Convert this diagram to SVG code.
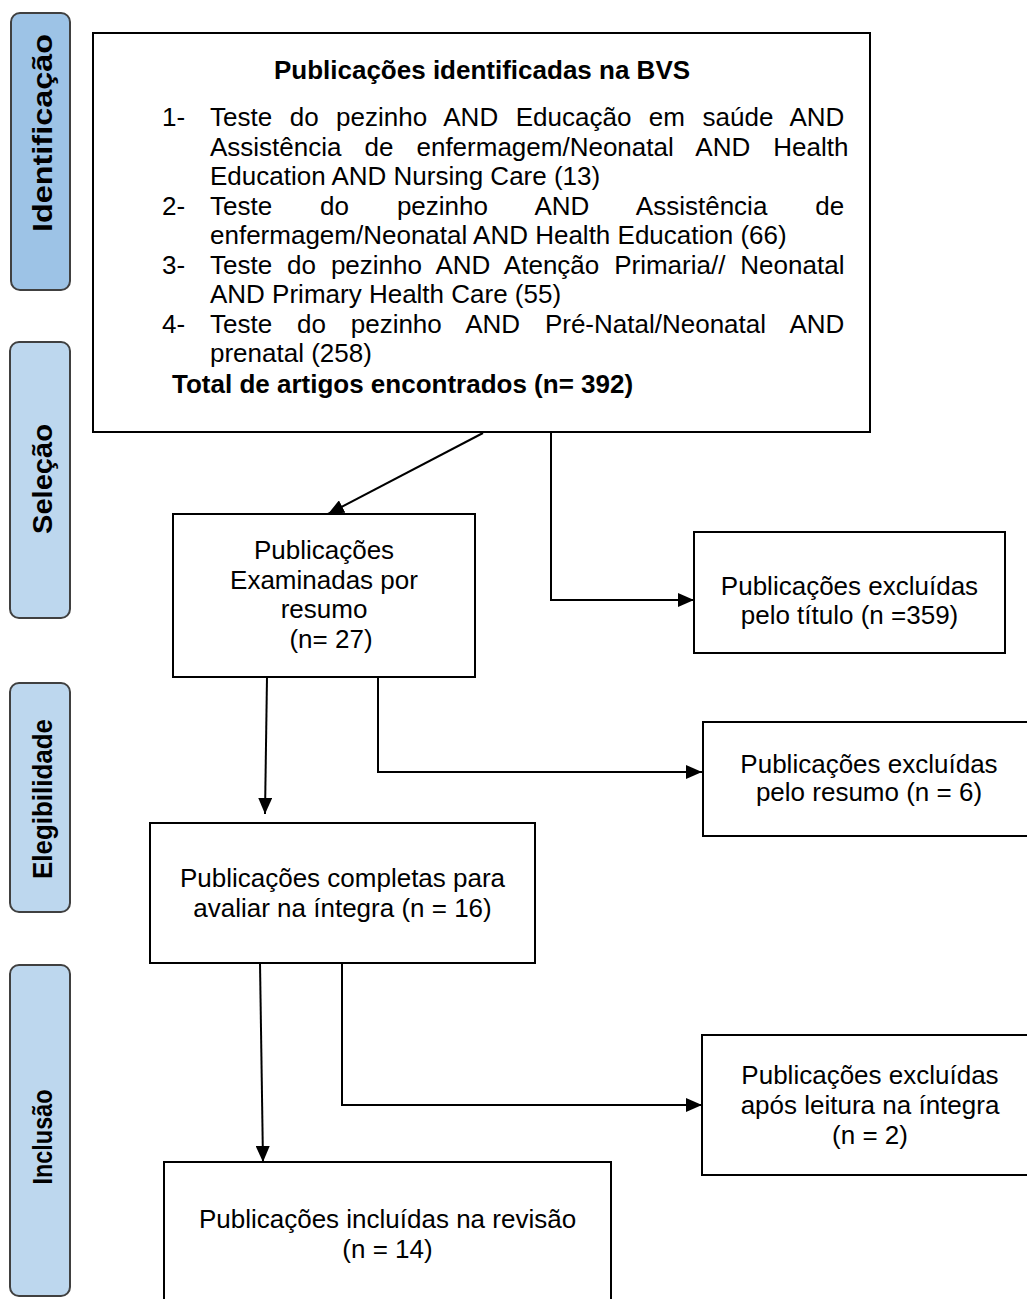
<svg xmlns="http://www.w3.org/2000/svg" width="1027" height="1299" viewBox="0 0 1027 1299">
<defs>
<marker id="ah" markerUnits="userSpaceOnUse" markerWidth="16" markerHeight="14" refX="16" refY="7" orient="auto">
<path d="M0,0 L16,7 L0,14 Z" fill="#000"/>
</marker>
</defs>
<style>
.stage{fill:#bdd7ee;stroke:#404040;stroke-width:2}
.stage1{fill:#9dc3e6;stroke:#404040;stroke-width:2}
.st{font-family:"Liberation Sans",Arial,sans-serif;font-size:27px;font-weight:bold;fill:#000}
.box{fill:#fff;stroke:#000;stroke-width:2}
.t{font-family:"Liberation Sans",Arial,sans-serif;font-size:26px;fill:#000}
.tb{font-family:"Liberation Sans",Arial,sans-serif;font-size:26px;font-weight:bold;fill:#000}
.c{text-anchor:middle}
.con{fill:none;stroke:#000;stroke-width:2}
</style>
<rect width="1027" height="1299" fill="#fff"/>

<g id="stage-identificacao">
<rect class="stage1" x="11" y="13" width="59" height="277" rx="9"/>
<text class="st c" transform="translate(52,133) rotate(-90)" textLength="198" lengthAdjust="spacingAndGlyphs">Identificação</text>
</g>
<g id="stage-selecao">
<rect class="stage" x="10" y="342" width="60" height="276" rx="9"/>
<text class="st c" transform="translate(52,479) rotate(-90)" textLength="110" lengthAdjust="spacingAndGlyphs">Seleção</text>
</g>
<g id="stage-elegibilidade">
<rect class="stage" x="10" y="683" width="60" height="229" rx="9"/>
<text class="st c" transform="translate(52,799) rotate(-90)" textLength="160" lengthAdjust="spacingAndGlyphs">Elegibilidade</text>
</g>
<g id="stage-inclusao">
<rect class="stage" x="10" y="965" width="60" height="331" rx="9"/>
<text class="st c" transform="translate(52,1137) rotate(-90)" textLength="95" lengthAdjust="spacingAndGlyphs">Inclusão</text>
</g>

<g id="node-identificadas">
<rect class="box" x="93" y="33" width="777" height="399"/>
<text class="tb c" x="482" y="79">Publicações identificadas na BVS</text>
<text class="t" x="162" y="126">1-</text>
<text class="t" x="210" y="126" style="word-spacing:10.3px">Teste do pezinho AND Educação em saúde AND</text>
<text class="t" x="210" y="155.5" style="word-spacing:15.8px">Assistência de enfermagem/Neonatal AND Health</text>
<text class="t" x="210" y="185">Education AND Nursing Care (13)</text>
<text class="t" x="162" y="214.5">2-</text>
<text class="t" x="210" y="214.5" style="word-spacing:40.7px">Teste do pezinho AND Assistência de</text>
<text class="t" x="210" y="244">enfermagem/Neonatal AND Health Education (66)</text>
<text class="t" x="162" y="273.5">3-</text>
<text class="t" x="210" y="273.5" style="word-spacing:7.7px">Teste do pezinho AND Atenção Primaria// Neonatal</text>
<text class="t" x="210" y="303">AND Primary Health Care (55)</text>
<text class="t" x="162" y="332.5">4-</text>
<text class="t" x="210" y="332.5" style="word-spacing:17.6px">Teste do pezinho AND Pré-Natal/Neonatal AND</text>
<text class="t" x="210" y="362">prenatal (258)</text>
<text class="tb" x="172" y="393">Total de artigos encontrados (n= 392)</text>
</g>

<g id="node-examinadas">
<rect class="box" x="173" y="514" width="302" height="163"/>
<text class="t c" x="324" y="559">Publicações</text>
<text class="t c" x="324" y="588.5">Examinadas por</text>
<text class="t c" x="324" y="618">resumo</text>
<text class="t c" x="331" y="647.5">(n= 27)</text>
</g>

<g id="node-excl-titulo">
<rect class="box" x="694" y="532" width="311" height="121"/>
<text class="t c" x="849.5" y="595">Publicações excluídas</text>
<text class="t c" x="849.5" y="624">pelo título (n =359)</text>
</g>

<g id="node-excl-resumo">
<rect class="box" x="703" y="722" width="333" height="114"/>
<text class="t c" x="869" y="773">Publicações excluídas</text>
<text class="t c" x="869" y="801">pelo resumo (n = 6)</text>
</g>

<g id="node-completas">
<rect class="box" x="150" y="823" width="385" height="140"/>
<text class="t c" x="342.5" y="887">Publicações completas para</text>
<text class="t c" x="342.5" y="917">avaliar na íntegra (n = 16)</text>
</g>

<g id="node-excl-integra">
<rect class="box" x="702" y="1035" width="336" height="140"/>
<text class="t c" x="870" y="1084">Publicações excluídas</text>
<text class="t c" x="870" y="1114">após leitura na íntegra</text>
<text class="t c" x="870" y="1144">(n = 2)</text>
</g>

<g id="node-incluidas">
<rect class="box" x="164" y="1162" width="447" height="160"/>
<text class="t c" x="387.5" y="1228">Publicações incluídas na revisão</text>
<text class="t c" x="387.5" y="1258">(n = 14)</text>
</g>

<g id="connectors">
<path class="con" d="M483,433 L328,514" marker-end="url(#ah)"/>
<path class="con" d="M551,433 L551,600 L694,600" marker-end="url(#ah)"/>
<path class="con" d="M267,677 L265,814" marker-end="url(#ah)"/>
<path class="con" d="M378,677 L378,772 L702,772" marker-end="url(#ah)"/>
<path class="con" d="M260,963 L263,1162" marker-end="url(#ah)"/>
<path class="con" d="M342,963 L342,1105 L702,1105" marker-end="url(#ah)"/>
</g>
</svg>
